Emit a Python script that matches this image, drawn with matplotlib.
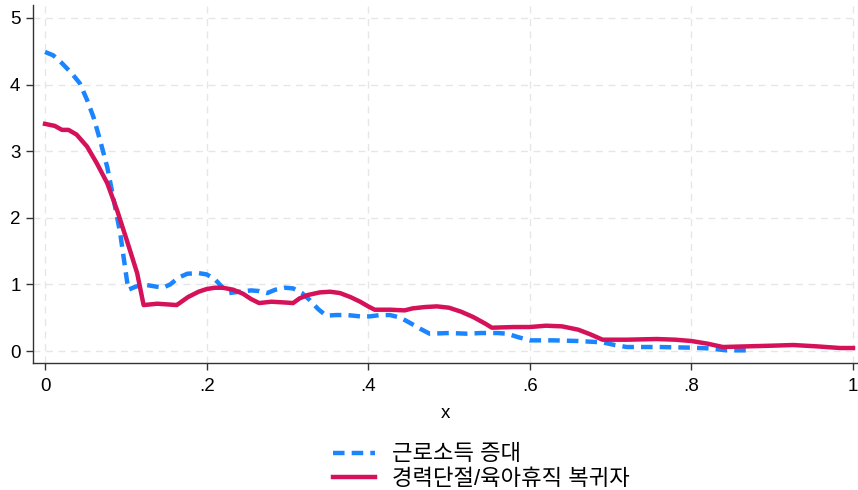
import matplotlib.pyplot as plt

plt.rcParams['font.family'] = ['Liberation Sans', 'Noto Sans CJK KR', 'DejaVu Sans']

# 근로소득 증대 (blue, dashed)
x_income = [0.0, 0.01, 0.021, 0.033, 0.043, 0.052, 0.06, 0.068, 0.077, 0.085, 0.093,
            0.099, 0.103, 0.113, 0.126, 0.146, 0.155, 0.165, 0.176, 0.19, 0.2, 0.21,
            0.22, 0.228, 0.24, 0.255, 0.265, 0.275, 0.285, 0.297, 0.307, 0.318, 0.328,
            0.338, 0.348, 0.36, 0.374, 0.39, 0.402, 0.415, 0.427, 0.44, 0.452, 0.465,
            0.476, 0.5, 0.522, 0.54, 0.56, 0.572, 0.585, 0.6, 0.63, 0.66, 0.69, 0.705,
            0.72, 0.76, 0.8, 0.82, 0.844, 0.873]
y_income = [4.49, 4.44, 4.32, 4.17, 4.02, 3.77, 3.51, 3.17, 2.76, 2.27, 1.77,
            1.26, 0.92, 0.97, 0.99, 0.95, 1.0, 1.1, 1.16, 1.17, 1.15, 1.08,
            0.95, 0.87, 0.89, 0.91, 0.9, 0.87, 0.92, 0.95, 0.94, 0.87, 0.76,
            0.63, 0.53, 0.54, 0.54, 0.52, 0.52, 0.54, 0.54, 0.5, 0.42, 0.33,
            0.26, 0.27, 0.26, 0.27, 0.27, 0.26, 0.21, 0.16, 0.16, 0.15, 0.13, 0.09,
            0.06, 0.06, 0.05, 0.04, 0.01, 0.01]

# 경력단절/육아휴직 복귀자 (red, solid)
x_return = [0.0, 0.012, 0.021, 0.029, 0.039, 0.052, 0.064, 0.077, 0.089, 0.101, 0.114,
            0.122, 0.139, 0.163, 0.177, 0.19, 0.2, 0.21, 0.22, 0.233, 0.245, 0.255,
            0.265, 0.28, 0.295, 0.307, 0.315, 0.325, 0.34, 0.353, 0.365, 0.378, 0.39,
            0.4, 0.408, 0.427, 0.445, 0.455, 0.47, 0.485, 0.5, 0.515, 0.53, 0.545,
            0.553, 0.58, 0.6, 0.62, 0.64, 0.66, 0.675, 0.69, 0.72, 0.757, 0.78, 0.8,
            0.82, 0.839, 0.869, 0.9, 0.926, 0.955, 0.984, 1.0]
y_return = [3.41, 3.38, 3.32, 3.32, 3.25, 3.07, 2.82, 2.52, 2.12, 1.67, 1.17,
            0.69, 0.71, 0.69, 0.81, 0.89, 0.93, 0.95, 0.95, 0.92, 0.86, 0.78,
            0.72, 0.74, 0.73, 0.72, 0.79, 0.84, 0.88, 0.89, 0.87, 0.81, 0.74,
            0.67, 0.62, 0.62, 0.61, 0.64, 0.66, 0.67, 0.65, 0.59, 0.51, 0.41,
            0.35, 0.36, 0.36, 0.38, 0.37, 0.32, 0.25, 0.17, 0.17, 0.18, 0.17, 0.15,
            0.11, 0.06, 0.07, 0.08, 0.09, 0.07, 0.045, 0.045]

x_ticks = [0, 0.2, 0.4, 0.6, 0.8, 1.0]
x_labels = ['0', '.2', '.4', '.6', '.8', '1']
y_ticks = [0, 1, 2, 3, 4, 5]

fig = plt.figure(figsize=(8.58, 4.9), dpi=100)
ax = fig.add_axes([33 / 858, 1 - 363 / 490, 1 - 33 / 858, (363 - 5) / 490])

ax.plot(x_income, y_income, color='#1a85ff', linestyle=(0, (2.6, 1.6)), linewidth=3.2,
        label='근로소득 증대')
ax.plot(x_return, y_return, color='#d41159', linestyle='-', linewidth=3.2,
        label='경력단절/육아휴직 복귀자')

ax.set_xlim(-0.0149, 1.0062)
ax.set_ylim(-0.18, 5.195)
ax.set_xticks(x_ticks)
ax.set_xticklabels(x_labels)
ax.set_yticks(y_ticks)
ax.tick_params(axis='both', labelsize=13.5, length=5, width=1, color='#333333', direction='out')
ax.tick_params(axis='x', pad=6)
ax.tick_params(axis='y', pad=4)
ax.set_xlabel('x', fontsize=13.5, labelpad=7)

ax.grid(True, color='#e6e6e6', linestyle=(0, (5, 4)), linewidth=1)
ax.set_axisbelow(True)
for side in ['top', 'right']:
    ax.spines[side].set_visible(False)
for side in ['left', 'bottom']:
    ax.spines[side].set_color('#333333')
    ax.spines[side].set_linewidth(1)

fig.legend(loc='center left', bbox_to_anchor=(333 / 858, 1 - 467 / 490), ncol=1,
           frameon=False, fontsize=16, handlelength=1.9, handletextpad=0.75,
           labelspacing=0.15, borderpad=0, borderaxespad=0)

plt.savefig('out.png', dpi=100)
